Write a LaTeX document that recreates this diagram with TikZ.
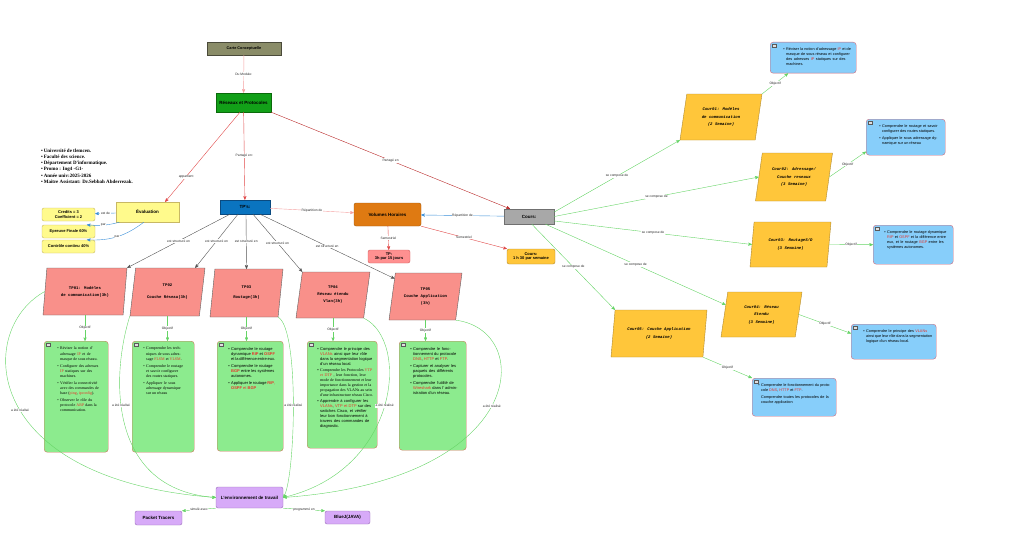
\documentclass[tikz,border=0pt]{standalone}
\usepackage{fontspec}
\setmainfont{Liberation Sans}
\newfontfamily\timesf{Liberation Serif}
\newfontfamily\monof{Liberation Mono}
\usepackage{xcolor}
\usetikzlibrary{arrows,shapes,positioning}

\definecolor{olivebox}{HTML}{8A8C68}
\definecolor{olivedark}{HTML}{4A4A3A}
\definecolor{resgreen}{HTML}{12A018}
\definecolor{resdark}{HTML}{0A6A0A}
\definecolor{evalyellow}{HTML}{FFFA8C}
\definecolor{evalline}{HTML}{C8B864}
\definecolor{tpblue}{HTML}{0A74C0}
\definecolor{tpbluedark}{HTML}{0A4A80}
\definecolor{volorange}{HTML}{DF7A12}
\definecolor{voldark}{HTML}{A05A10}
\definecolor{coursgray}{HTML}{A8A8A8}
\definecolor{coursdark}{HTML}{707070}
\definecolor{tppink}{HTML}{FF9090}
\definecolor{tppinkline}{HTML}{D06060}
\definecolor{goldbox}{HTML}{FFC63A}
\definecolor{goldline}{HTML}{B08A30}
\definecolor{salmon}{HTML}{F9908A}
\definecolor{greenbox}{HTML}{8CEB8E}
\definecolor{greenline}{HTML}{C87A5A}
\definecolor{bluebox}{HTML}{87CEFA}
\definecolor{blueline}{HTML}{D06A7A}
\definecolor{purplebox}{HTML}{D7AAF8}
\definecolor{purpleline}{HTML}{9A70B8}
\definecolor{hired}{HTML}{E8322A}
\definecolor{lnred}{HTML}{E04848}
\definecolor{lndark}{HTML}{B82828}
\definecolor{lnpink}{HTML}{F4A0A0}
\definecolor{lnblue}{HTML}{3A8FD8}
\definecolor{lngreen}{HTML}{66D466}
\definecolor{lngray}{HTML}{555555}

% mots en rouge et puces des boites
\newcommand{\hl}[1]{\textcolor{hired}{#1}}
\newcommand{\itm}{\par\noindent\llap{\textbullet\hspace{1.5pt}}}
\newcommand{\boxtxt}[5][4pt]{%
  \begin{minipage}[t][#2][t]{#3}\vspace*{6pt}\raggedright
  \leftskip=#4\rightskip=#1 plus 2em\parskip=1.2pt\relax
  #5\end{minipage}}

\begin{document}
\begin{tikzpicture}[x=1pt, y=-1pt, ->, >=stealth', thin,
  cnode/.style={draw, font=\bfseries\fontsize{4.5}{5.5}\selectfont, align=center, inner sep=1pt},
  rnode/.style={cnode, rounded corners=2pt},
  elab/.style={font=\fontsize{3.3}{4}\selectfont, fill=white, inner sep=0.6pt, text=black!85},
  tpshape/.style={trapezium, trapezium left angle=70, trapezium right angle=110, trapezium stretches body, draw=gray!75!black, fill=salmon, align=center, inner sep=0pt, font=\monof\bfseries\fontsize{4}{7}\selectfont},
  courshape/.style={tpshape, fill=goldbox, draw=goldline, font=\monof\bfseries\itshape\fontsize{4}{7.5}\selectfont},
  icon/.style={path picture={\draw[-, sharp corners, gray!70!black, fill=gray!25, line width=0.2pt] ([shift={(2pt,-2pt)}]path picture bounding box.north west) rectangle ++(4pt,-3pt);}},
  tpobj/.style={draw=greenline, fill=greenbox, rounded corners=3pt, inner sep=0pt, anchor=north west, icon, font=\timesf\fontsize{4}{5.3}\selectfont},
  crobj/.style={draw=blueline, fill=bluebox, rounded corners=3pt, inner sep=0pt, anchor=north west, icon, font=\fontsize{3.8}{5}\selectfont},
  grn/.style={draw=lngreen},
]
\useasboundingbox (0,0) rectangle (1017,543);

% haut de la carte
\node[cnode, fill=olivebox, draw=olivedark, minimum width=74, minimum height=13, font=\bfseries\fontsize{3.8}{4.5}\selectfont] (carte) at (244,48.5) {Carte Conceptuelle};
\node[cnode, fill=resgreen, draw=resdark, minimum width=55, minimum height=19] (resx) at (243.5,102.5) {Réseaux et Protocoles};

\node[anchor=north west, align=left, inner sep=0pt, font=\timesf\bfseries\fontsize{5}{6.1}\selectfont] (info) at (41,149) {%
\textbullet\,Université de tlemcen.\\
\textbullet\,Faculté des science.\\
\textbullet\,Département D'informatique.\\
\textbullet\,Promo : Ing4 -G1-\\
\textbullet\,Année univ:2025-2026\\
\textbullet\,Maitre Assistant: Dr.Sebbah Abderrezak.};

\node[cnode, fill=evalyellow, draw=evalline, minimum width=63, minimum height=20] (eval) at (147.5,212) {Évaluation};
\node[rnode, fill=evalyellow, draw=evalline, minimum width=53, minimum height=13, font=\bfseries\fontsize{4}{4.8}\selectfont] (credit) at (68.5,214.5) {Credits = 3\\Coefficient = 2};
\node[rnode, fill=evalyellow, draw=evalline, minimum width=53, minimum height=13, font=\bfseries\fontsize{4}{4.8}\selectfont] (finale) at (68.5,231.5) {Epreuve Finale 60\%};
\node[rnode, fill=evalyellow, draw=evalline, minimum width=53, minimum height=13, font=\bfseries\fontsize{4}{4.8}\selectfont] (contin) at (68.5,246.5) {Contrôle continu 40\%};

\node[cnode, fill=tpblue, draw=tpbluedark, minimum width=50, minimum height=14] (tps) at (245,207) {TP's:};
\node[rnode, fill=volorange, draw=voldark, minimum width=67, minimum height=23] (vol) at (387.5,214.5) {Volumes Horaires};
\node[cnode, fill=coursgray, draw=coursdark, minimum width=50, minimum height=15] (cours) at (529,216.5) {Cours:};
\node[rnode, fill=tppink, draw=tppinkline, minimum width=42, minimum height=13, font=\bfseries\fontsize{4}{4.8}\selectfont] (tph) at (389,256.5) {TP:\\3h par 15 jours};
\node[rnode, fill=goldbox, draw=goldline, minimum width=48, minimum height=15, font=\bfseries\fontsize{4}{4.8}\selectfont] (coursh) at (531,256.5) {Cours:\\1 h 30 par semaine};

% les TP
\node[tpshape, minimum width=84, minimum height=47] (tp01) at (85,291.5) {TP01: Modèles\\de communication(3h)};
\node[tpshape, minimum width=75, minimum height=48] (tp02) at (167.5,292) {TP02\\[5pt]Couche Réseau(3h)};
\node[tpshape, minimum width=73, minimum height=48] (tp03) at (246.5,293) {TP03\\[3pt]Routage(3h)};
\node[tpshape, minimum width=74, minimum height=46] (tp04) at (333,295) {TP04\\Réseau étendu\\Vlan(3h)};
\node[tpshape, minimum width=73, minimum height=47] (tp05) at (425.5,296.5) {TP05\\Couche Application\\(3h)};

\node[tpobj] (ob1) at (44,341) {\boxtxt[9pt]{111pt}{64pt}{16pt}{%
\itm Réviser la notion d' adressage \hl{IP} et de masque de sous réseau.
\itm Configurer des adresses \hl{IP} statiques sur des machines.
\itm Vérifier la connectivité avec des commandes de base (\hl{ping}, \hl{ipconfig}).
\itm Observer le rôle du protocole \hl{ARP} dans la communication.}};
\node[tpobj] (ob2) at (132,341) {\boxtxt[11pt]{111pt}{62pt}{14pt}{%
\itm Comprendre les techniques de sous adressage \hl{FLSM} et \hl{VLSM}.
\itm Comprendre le routage et savoir configurer des routes statiques.
\itm Appliquer le sous adressage dynamique sur un réseau}};
\node[tpobj, font=\fontsize{4}{5.3}\selectfont] (ob3) at (217,341) {\boxtxt[8pt]{110pt}{66pt}{14pt}{%
\itm Comprendre le routage dynamique \hl{\textbf{RIP}} et \hl{\textbf{OSPF}} et la différence entre eux.
\itm Comprendre le routage \hl{\textbf{BGP}} entre les systèmes autonomes.
\itm Appliquer le routage \hl{\textbf{RIP}, \textbf{OSPF} et \textbf{BGP}}}};
\node[tpobj, font=\fontsize{4}{5}\selectfont] (ob4) at (307,341) {\boxtxt{107pt}{70pt}{13pt}{%
\itm Comprendre le principe des \hl{VLANs} ainsi que leur rôle dans la segmentation logique d'un réseau local.
\itm {\timesf Comprendre les Protocoles \hl{VTP et DTP} , leur fonction, leur mode de fonctionnement et leur importance dans la gestion et la propagation des VLANs au sein d'une infrastructure réseau Cisco.}
\itm Apprendre à configurer les \hl{VLANs}, \hl{VTP et DTP} sur des switches Cisco, et vérifier leur bon fonctionnement à travers des commandes de diagnostic.}};
\node[tpobj, font=\fontsize{4}{5.3}\selectfont] (ob5) at (399,341) {\boxtxt[8pt]{109pt}{67pt}{14pt}{%
\itm Comprendre le fonctionnement du protocole \hl{DNS}, \hl{HTTP} et \hl{FTP}.
\itm Capturer et analyser les paquets des différents protocoles.
\itm Comprendre l'utilité de \hl{Wireshark} dans l' administration d'un réseau.}};

\node[rnode, fill=purplebox, draw=purpleline, minimum width=67, minimum height=21] (env) at (249.5,497.5) {L'environnement de travail};
\node[rnode, fill=purplebox, draw=purpleline, minimum width=47, minimum height=14] (packet) at (158.5,518) {Packet Tracers};
\node[rnode, fill=purplebox, draw=purpleline, minimum width=45, minimum height=13] (bluej) at (347.5,517.5) {BlueJ(JAVA)};

% les cours
\node[courshape, minimum width=82, minimum height=46] (cour01) at (721,117) {Cour01: Modèles\\de communication\\(2 Semaine)};
\node[courshape, minimum width=77, minimum height=48] (cour02) at (794,177) {Cour02: Adressage/\\Couche reseaux\\(3 Semaine)};
\node[courshape, minimum width=81, minimum height=45] (cour03) at (790.5,244.5) {Cour03: RoutageS/D\\(3 Semaine)};
\node[courshape, minimum width=81, minimum height=45] (cour04) at (761.5,314.5) {Cour04: Réseau\\Etendu\\(3 Semaine)};
\node[courshape, minimum width=96, minimum height=47] (cour05) at (659,333.5) {Cour05: Couche Application\\(2 Semaine)};

\node[crobj] (c1) at (770,42) {\boxtxt{31pt}{86pt}{16pt}{%
\itm Réviser la notion d'adressage \hl{IP} et de masque de sous réseau et configurer des adresses \hl{IP} statiques sur des machines.}};
\node[crobj] (c2) at (866,119) {\boxtxt{36pt}{79pt}{16pt}{%
\itm Comprendre le routage et savoir configurer des routes statiques.
\itm Appliquer le sous adressage dynamique sur un réseau}};
\node[crobj] (c3) at (873,225) {\boxtxt{39pt}{80pt}{14pt}{%
\itm Comprendre le routage dynamique \hl{RIP} et \hl{OSPF} et la différence entre eux, et le routage \hl{BGP} entre les systèmes autonomes.}};
\node[crobj] (c4) at (851,324) {\boxtxt{35pt}{85pt}{15pt}{%
\itm Comprendre le principe des \hl{VLANs} ainsi que leur rôle dans la segmentation logique d'un réseau local.}};
\node[crobj] (c5) at (752,378) {\boxtxt{38pt}{84pt}{9pt}{%
\itm Comprendre le fonctionnement du protocole \hl{DNS}, \hl{HTTP} et \hl{FTP}.\par
Comprendre toutes les protocoles de la couche application}};

\path
(carte) edge[draw=lnpink] node[elab] {Du Module:} (resx)
(resx.250) edge[draw=lnred] node[elab, pos=0.72] {appartient} (eval.30)
(resx) edge[draw=lnred] node[elab] {Partagé en:} (tps)
(resx.south east) edge[draw=lndark] node[elab] {Partagé en} (cours.158)

(eval) edge[draw=lnblue] node[elab] {est de} (credit)
(eval.200) edge[draw=lnblue, bend left=10] node[elab] {par} (finale.20)
(eval.250) edge[draw=lnblue, bend left=20] node[elab] {par} (contin.20)

(tps) edge[draw=lnpink] node[elab] {Répartition de} (vol)
(cours) edge[draw=lnblue] node[elab] {Répartition de} (vol)
(vol) edge[draw=lnred] node[elab] {Semestriel} (tph)
(vol.south east) edge[draw=lnred] node[elab] {Semestriel} (coursh.north west)

([xshift=-15pt]tps.south) edge[draw=lngray] node[elab] {est structuré en} (tp01.top right corner)
([xshift=-7pt]tps.south) edge[draw=lngray] node[elab] {est structuré en} ([xshift=-10pt]tp02.top right corner)
([xshift=1pt]tps.south) edge[draw=lngray] node[elab] {est structuré en} (tp03.north)
([xshift=8pt]tps.south) edge[draw=lngray] node[elab] {est structuré en} (tp04.top left corner)
([xshift=15pt]tps.south) edge[draw=lngray] node[elab] {est structuré en} (tp05.150);

\path
(tp01.south) edge[grn] node[elab] {Objectif} (tp01.south |- ob1.north)
(tp02.south) edge[grn] node[elab] {Objectif} (tp02.south |- ob2.north)
(tp03.south) edge[grn] node[elab] {Objectif} (tp03.south |- ob3.north)
(tp04.south) edge[grn] node[elab] {Objectif} (tp04.south |- ob4.north)
(tp05.south) edge[grn] node[elab] {Objectif} (tp05.south |- ob5.north);

\draw[grn] (tp01.west) .. controls (-25,330) and (-20,480) .. node[elab, pos=0.53] {a été réalisé} (env.west);
\draw[grn] (tp02.bottom left corner) .. controls (110,380) and (110,490) .. node[elab, pos=0.4] {a été réalisé} (env.west);
\draw[grn] (tp03.bottom right corner) .. controls (300,330) and (295,480) .. node[elab, pos=0.5] {a été réalisé} (env.east);
\draw[grn] (tp04.bottom right corner) .. controls (410,340) and (400,470) .. node[elab, pos=0.5] {a été réalisé} (env.east);
\draw[grn] (tp05.bottom right corner) .. controls (535,330) and (530,480) .. node[elab, pos=0.5] {a été réalisé} (env.east);

\path
(env.south west) edge[grn] node[elab] {simulé avec} (packet.north east)
(env.south east) edge[grn] node[elab] {programmé en} (bluej.north west);

\path
(cours.10) edge[grn] node[elab] {se compose de} (cour01.bottom left corner)
(cours.east) edge[grn] node[elab] {se compose de} (cour02.west)
(cours.-10) edge[grn] node[elab] {se compose de} (cour03.west)
(cours.-25) edge[grn] node[elab] {se compose de} (cour04.165)
(cours.-70) edge[grn] node[elab] {se compose de} (cour05.top left corner)

(cour01.top right corner) edge[grn] node[elab] {Objectif} (c1.212)
(cour02.east) edge[grn] node[elab] {Objectif} (c2.200)
(cour03.east) edge[grn] node[elab] {Objectif} (c3.west)
(cour04.east) edge[grn] node[elab] {Objectif} (c4.169)
(cour05.bottom right corner) edge[grn] node[elab] {Objectif} (c5.north west);
\end{tikzpicture}
\end{document}
